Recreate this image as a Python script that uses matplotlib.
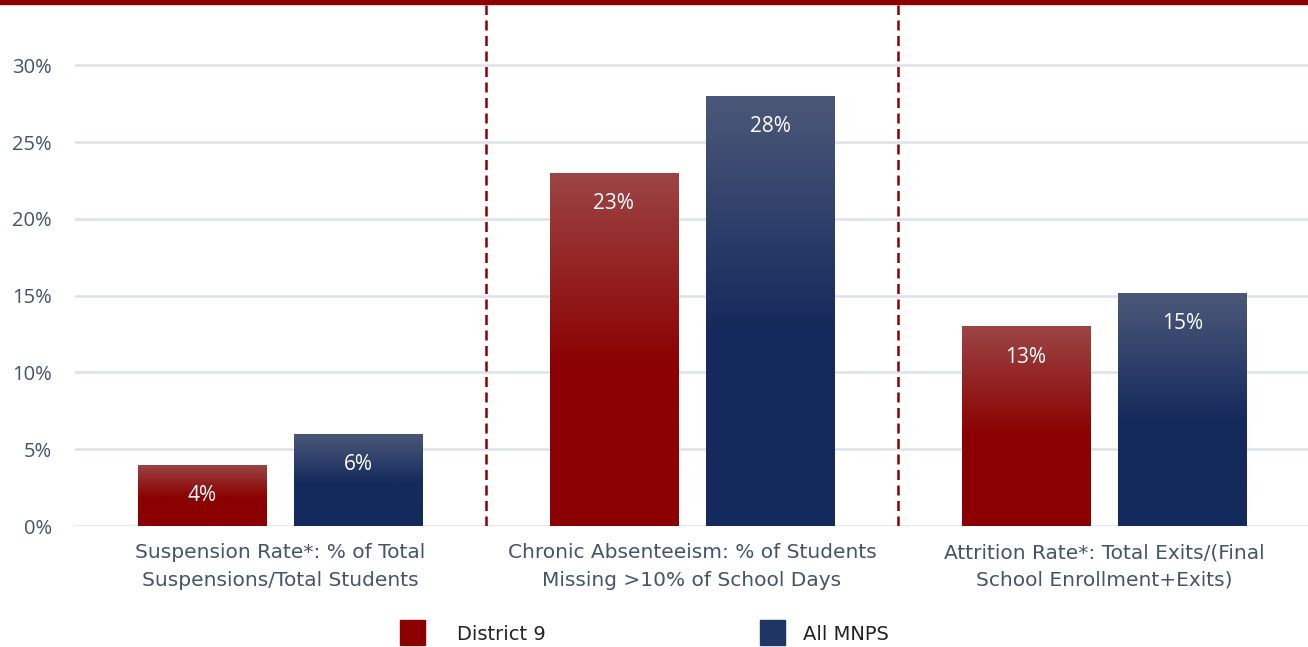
# district9_metrics.py
# District 9 vs All MNPS - suspension, absenteeism and attrition rates.

import numpy as np
from matplotlib import pyplot as plt
from matplotlib.colors import LinearSegmentedColormap
from matplotlib.patches import Rectangle

categories = [
    'Suspension Rate*: % of Total\nSuspensions/Total Students',
    'Chronic Absenteeism: % of Students\nMissing >10% of School Days',
    'Attrition Rate*: Total Exits/(Final\nSchool Enrollment+Exits)',
]
series_names = ['District 9', 'All MNPS']
district9 = [4.0, 23.0, 13.0]
all_mnps = [6.0, 28.0, 15.2]
y_ticks = [0, 5, 10, 15, 20, 25, 30]

RED = '#8b0000'
RED_TOP = '#9c4545'
BLUE = '#142a5c'
BLUE_TOP = '#4c5879'
TICK_COLOR = '#44546a'
GRID_COLOR = '#dde1e8'


def gradient_bars(ax, bars, top_color, bottom_color):
    '''
    Fill each bar with a vertical gradient: lighter at the top,
    solid in the lower half.
    '''
    cmap = LinearSegmentedColormap.from_list(
        'g', [(0, bottom_color), (0.45, bottom_color), (1, top_color)])
    grad = np.linspace(0, 1, 256).reshape(-1, 1)
    for bar in bars:
        x0, y0 = bar.get_x(), bar.get_y()
        w, h = bar.get_width(), bar.get_height()
        bar.set_facecolor('none')
        img = ax.imshow(grad, cmap=cmap, aspect='auto', origin='lower',
                        extent=[x0, x0 + w, y0, y0 + h], zorder=3)
        img.set_clip_path(bar)


fig = plt.figure(figsize=(13.08, 6.47), dpi=100)
ax = fig.add_axes([75 / 1308, 121 / 647, 1233 / 1308, 526 / 647])

x = np.arange(len(categories))
width = 0.311
b1 = ax.bar(x - 0.19, district9, width, color=RED, zorder=3, linewidth=0)
b2 = ax.bar(x + 0.19, all_mnps, width, color=BLUE, zorder=3, linewidth=0)
gradient_bars(ax, b1, RED_TOP, RED)
gradient_bars(ax, b2, BLUE_TOP, BLUE)

# value labels inside the top of each bar
for bars, vals in ((b1, district9), (b2, all_mnps)):
    for bar, v in zip(bars, vals):
        ax.text(bar.get_x() + bar.get_width() / 2, v - 2.0,
                f'{round(v):.0f}%', ha='center', va='center',
                color='white', fontsize=15, family='Open Sans', zorder=5)

ax.set_xlim(-0.4976, 2.495)
ax.set_ylim(0, 34.25)
ax.set_yticks(y_ticks)
ax.set_yticklabels([f'{t}%' for t in y_ticks], family='Open Sans',
                   fontsize=14.5, color=TICK_COLOR)
ax.tick_params(axis='y', length=0, pad=16.5)
ax.set_xticks(x)
ax.set_xticklabels(categories, family='DejaVu Sans', fontsize=14.5,
                   color=TICK_COLOR, linespacing=1.55)
ax.tick_params(axis='x', length=0, pad=12.5)
ax.grid(axis='y', color=GRID_COLOR, linewidth=1.8, zorder=0)
ax.set_axisbelow(True)
for s in ax.spines.values():
    s.set_visible(False)

# dashed dividers between groups
for xd in (0.5, 1.5):
    ax.axvline(xd, ymin=0, ymax=0.99, color=RED, linestyle=(0, (4, 2.2)),
               linewidth=1.8, zorder=4)

# dark red band across the top
fig.patches.append(Rectangle((0, 1 - 4 / 647), 1, 4 / 647,
                             transform=fig.transFigure, color=RED,
                             zorder=10))

# legend, placed by hand to match the spacing of the original
legend_items = [(series_names[0], RED, 400, 457),
                (series_names[1], '#1f3563', 760, 803)]
for name, col, box_x, text_x in legend_items:
    fig.patches.append(Rectangle((box_x / 1308, 1 - 645 / 647),
                                 25 / 1308, 25 / 647,
                                 transform=fig.transFigure, color=col))
    fig.text(text_x / 1308, 1 - 634 / 647, name, va='center', ha='left',
             family='DejaVu Sans', fontsize=14, color='#222222')

plt.savefig('out.png', dpi=100)
